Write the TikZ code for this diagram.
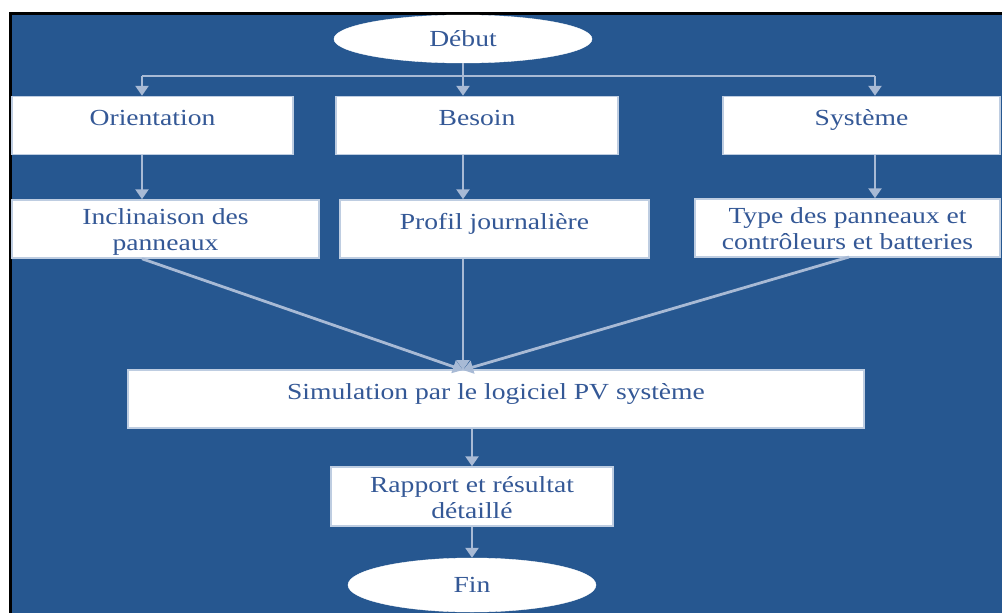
\documentclass[tikz,border=0pt]{standalone}
\usepackage{fontspec}
\setmainfont{Liberation Serif}[FakeStretch=1.2]
\usetikzlibrary{arrows.meta,shapes.geometric}
\definecolor{fondbleu}{RGB}{38,87,144}
\definecolor{textebleu}{RGB}{52,88,150}
\definecolor{flechegris}{RGB}{168,186,213}
\definecolor{bordgris}{RGB}{190,205,225}
\tikzset{
    boite/.style={draw=bordgris, fill=white, line width=1.5pt, text=textebleu, inner sep=0pt, font=\fontsize{23}{26}\selectfont},
    ligne/.style={boite, text height=29pt, text depth=29pt, minimum height=58pt},
    deuxlignes/.style={boite, align=center, text height=50pt, text depth=8pt, minimum height=58pt},
    bout/.style={ellipse, draw=white, fill=white, text=textebleu, inner sep=0pt, font=\fontsize{23}{26}\selectfont},
    lien/.style={draw=flechegris, line width=2.8pt},
    fleche/.style={lien, -{Triangle[width=13pt,length=10pt]}}
}
\begin{document}
\begin{tikzpicture}[x=1pt, y=-1pt]
        \useasboundingbox (0,0) rectangle (1002,613);
        \fill[fondbleu] (10,13) rectangle (1002,613);
        \draw[line width=3pt] (1002,13) -- (10,13) -- (10,613);

        \node[bout, minimum width=258pt, minimum height=48pt] (debut) at (463,39) {Début};

        \node[ligne, minimum width=281pt] (orient) at (152.5,125.5) {Orientation};
        \node[ligne, minimum width=282pt] (besoin) at (477,125.5) {Besoin};
        \node[ligne, minimum width=277pt] (systeme) at (861.5,125.5) {Système};

        \node[deuxlignes, minimum width=307pt] (inclin) at (165.5,229) {Inclinaison des\\panneaux};
        \node[ligne, minimum width=309pt] (profil) at (494.5,229) {Profil journalière};
        \node[deuxlignes, minimum width=305pt] (type) at (847.5,228) {Type des panneaux et\\contrôleurs et batteries};

        \node[ligne, minimum width=736pt] (simul) at (496,399) {Simulation par le logiciel PV système};
        \node[deuxlignes, minimum width=282pt, text height=51pt] (rapport) at (472,496.5) {Rapport et résultat\\détaillé};
        \node[bout, minimum width=248pt, minimum height=54pt] (fin) at (472,585) {Fin};

        \coordinate (busG) at (142,76);
        \coordinate (busD) at (875,76);
        \coordinate (jonction) at (463,370);

        \draw[lien] (busG) -- (busD);
        \draw[fleche] (busG) -- (busG |- orient.north);
        \draw[fleche] (debut.south) -- (debut.south |- besoin.north);
        \draw[fleche] (busD) -- (busD |- systeme.north);

        \draw[fleche] (busG |- orient.south) -- (busG |- inclin.north);
        \draw[fleche] (debut.south |- besoin.south) -- (debut.south |- profil.north);
        \draw[fleche] (busD |- systeme.south) -- (busD |- type.north);

        \draw[fleche] (busG |- inclin.south) -- (jonction);
        \draw[fleche] (debut.south |- profil.south) -- (jonction);
        \draw[fleche] (849,257) -- (jonction);

        \draw[fleche] (simul.south -| rapport) -- (rapport.north);
        \draw[fleche] (rapport.south) -- (fin.north);
    \end{tikzpicture}
\end{document}
